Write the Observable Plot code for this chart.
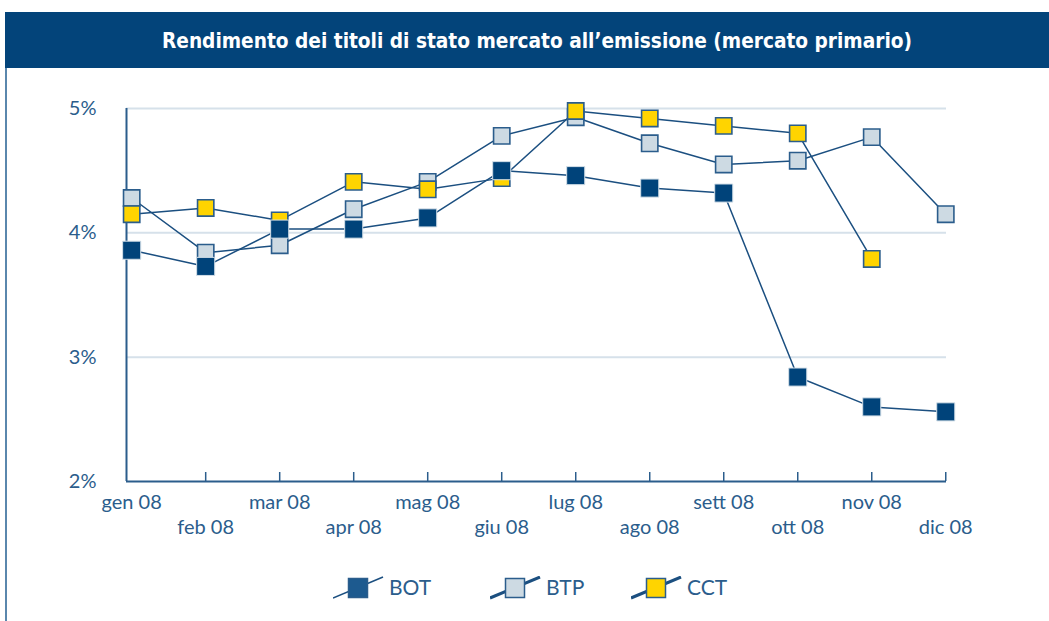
<!DOCTYPE html>
<html>
<head>
<meta charset="utf-8">
<script src="https://cdn.jsdelivr.net/npm/d3@7"></script>
<script src="https://cdn.jsdelivr.net/npm/@observablehq/plot@0.6"></script>
<style>
  html, body { margin: 0; padding: 0; background: #ffffff; }
  #wrap { position: relative; width: 1049px; height: 621px; overflow: hidden; font-family: Lato, "Open Sans", sans-serif; }
  #titlebar { position: absolute; left: 5px; top: 12px; width: 1044px; height: 56px; background: #03447a; }
  #leftline { position: absolute; left: 5px; top: 68px; width: 2px; height: 553px; background: #5a87ad; }
  #chart { position: absolute; left: 0; top: 80px; }
  .leg { position: absolute; top: 576px; height: 24px; }
  .leg svg { position: absolute; left: 0; top: 0; }
  .leg span { position: absolute; left: 56px; top: -2px; font-size: 21px; color: #2b5d8c; font-family: Lato, sans-serif; white-space: nowrap; }
</style>
</head>
<body>
<div id="wrap">
  <div id="titlebar"></div>
  <svg id="titlesvg" width="1049" height="70" style="position:absolute;left:0;top:0">
    <text id="titletext" x="537" y="48" text-anchor="middle" fill="#ffffff"
      font-family="'Liberation Sans Narrow', 'DejaVu Sans Condensed', sans-serif" font-weight="bold" font-size="22"
      textLength="750" lengthAdjust="spacingAndGlyphs"></text>
  </svg>
  <div id="leftline"></div>
  <div id="chart"></div>
  <div id="legend"></div>
</div>
<script>
const title = "Rendimento dei titoli di stato mercato all\u2019emissione (mercato primario)";
const months = ["gen 08","feb 08","mar 08","apr 08","mag 08","giu 08","lug 08","ago 08","sett 08","ott 08","nov 08","dic 08"];
const seriesNames = ["BOT","BTP","CCT"];
const bot = [3.86, 3.73, 4.03, 4.03, 4.12, 4.50, 4.46, 4.36, 4.32, 2.84, 2.60, 2.56];
const btp = [4.28, 3.84, 3.90, 4.19, 4.41, 4.78, 4.93, 4.72, 4.55, 4.58, 4.77, 4.15];
const cct = [4.15, 4.20, 4.10, 4.41, 4.35, 4.44, 4.98, 4.92, 4.86, 4.80, 3.79, null];
const yTicks = [2, 3, 4, 5];
const yDomain = [2, 5];
const xDomain = [-0.07, 11.01];

document.getElementById("titletext").textContent = title;

const navy = "#2b5d8c";
const lineColor = "#1b4f80";
const values = {BOT: bot, BTP: btp, CCT: cct};
const rows = seriesNames.flatMap(s => values[s].map((v, i) => ({s, i, v, label: months[i]}))).filter(d => d.v != null);
const monthRows = months.map((label, i) => ({i, label}));
const tickIdx = monthRows.slice(1).map(d => d.i);

const styles = {
  BOT: {fill: "#00437a", stroke: "#d3dfe8", strokeWidth: 1, r: 10.2},
  BTP: {fill: "#cddae3", stroke: navy, strokeWidth: 1.6, r: 9.2},
  CCT: {fill: "#ffd400", stroke: navy, strokeWidth: 1.6, r: 9.2}
};

const plot = Plot.plot({
  width: 1049,
  height: 470,
  marginTop: 28,
  marginBottom: 69,
  marginLeft: 126,
  marginRight: 103,
  style: {fontFamily: "Lato, sans-serif", color: navy, background: "transparent", overflow: "visible"},
  x: {type: "linear", domain: xDomain},
  y: {domain: yDomain},
  marks: [
    Plot.ruleY(yTicks.slice(1), {stroke: "#d6e1ea", strokeWidth: 2}),
    Plot.ruleX([xDomain[0]], {stroke: navy, strokeWidth: 2}),
    Plot.ruleY([yDomain[0]], {stroke: navy, strokeWidth: 2}),
    Plot.axisX({ticks: tickIdx, tickSize: -9, tickFormat: () => "", stroke: navy, strokeWidth: 1.5, label: null}),
    Plot.axisY({ticks: yTicks, tickSize: 0, tickPadding: 30, tickFormat: d => d + "%", fontSize: 20, fill: navy, label: null}),
    Plot.text(monthRows.filter(d => d.i % 2 === 0), {x: "i", text: "label", frameAnchor: "bottom", dy: 21.5, lineAnchor: "middle", fontSize: 20, fill: navy}),
    Plot.text(monthRows.filter(d => d.i % 2 === 1), {x: "i", text: "label", frameAnchor: "bottom", dy: 46.5, lineAnchor: "middle", fontSize: 20, fill: navy}),
    Plot.line(rows, {x: "i", y: "v", z: "s", stroke: lineColor, strokeWidth: 1.5}),
    ...["BTP", "CCT", "BOT"].map(s => Plot.dot(rows.filter(d => d.s === s), {x: "i", y: "v", symbol: "square", ...styles[s]}))
  ]
});
document.getElementById("chart").appendChild(plot);

// Legend
const legPos = {BOT: 333, BTP: 490, CCT: 631};
const legLine = {BOT: 1.5, BTP: 3, CCT: 3};
const legFill = {BOT: "#1d5a8f", BTP: "#cddae3", CCT: "#ffd400"};
const legend = document.getElementById("legend");
for (const s of seriesNames) {
  const div = document.createElement("div");
  div.className = "leg";
  div.style.left = legPos[s] + "px";
  div.innerHTML = `<svg width="54" height="24"><line x1="0" y1="22" x2="50" y2="1" stroke="${lineColor}" stroke-width="${legLine[s]}"/><rect x="15.5" y="2.5" width="19" height="19" fill="${legFill[s]}" stroke="${navy}" stroke-width="1.5"/></svg><span>${s}</span>`;
  legend.appendChild(div);
}
</script>
</body>
</html>
